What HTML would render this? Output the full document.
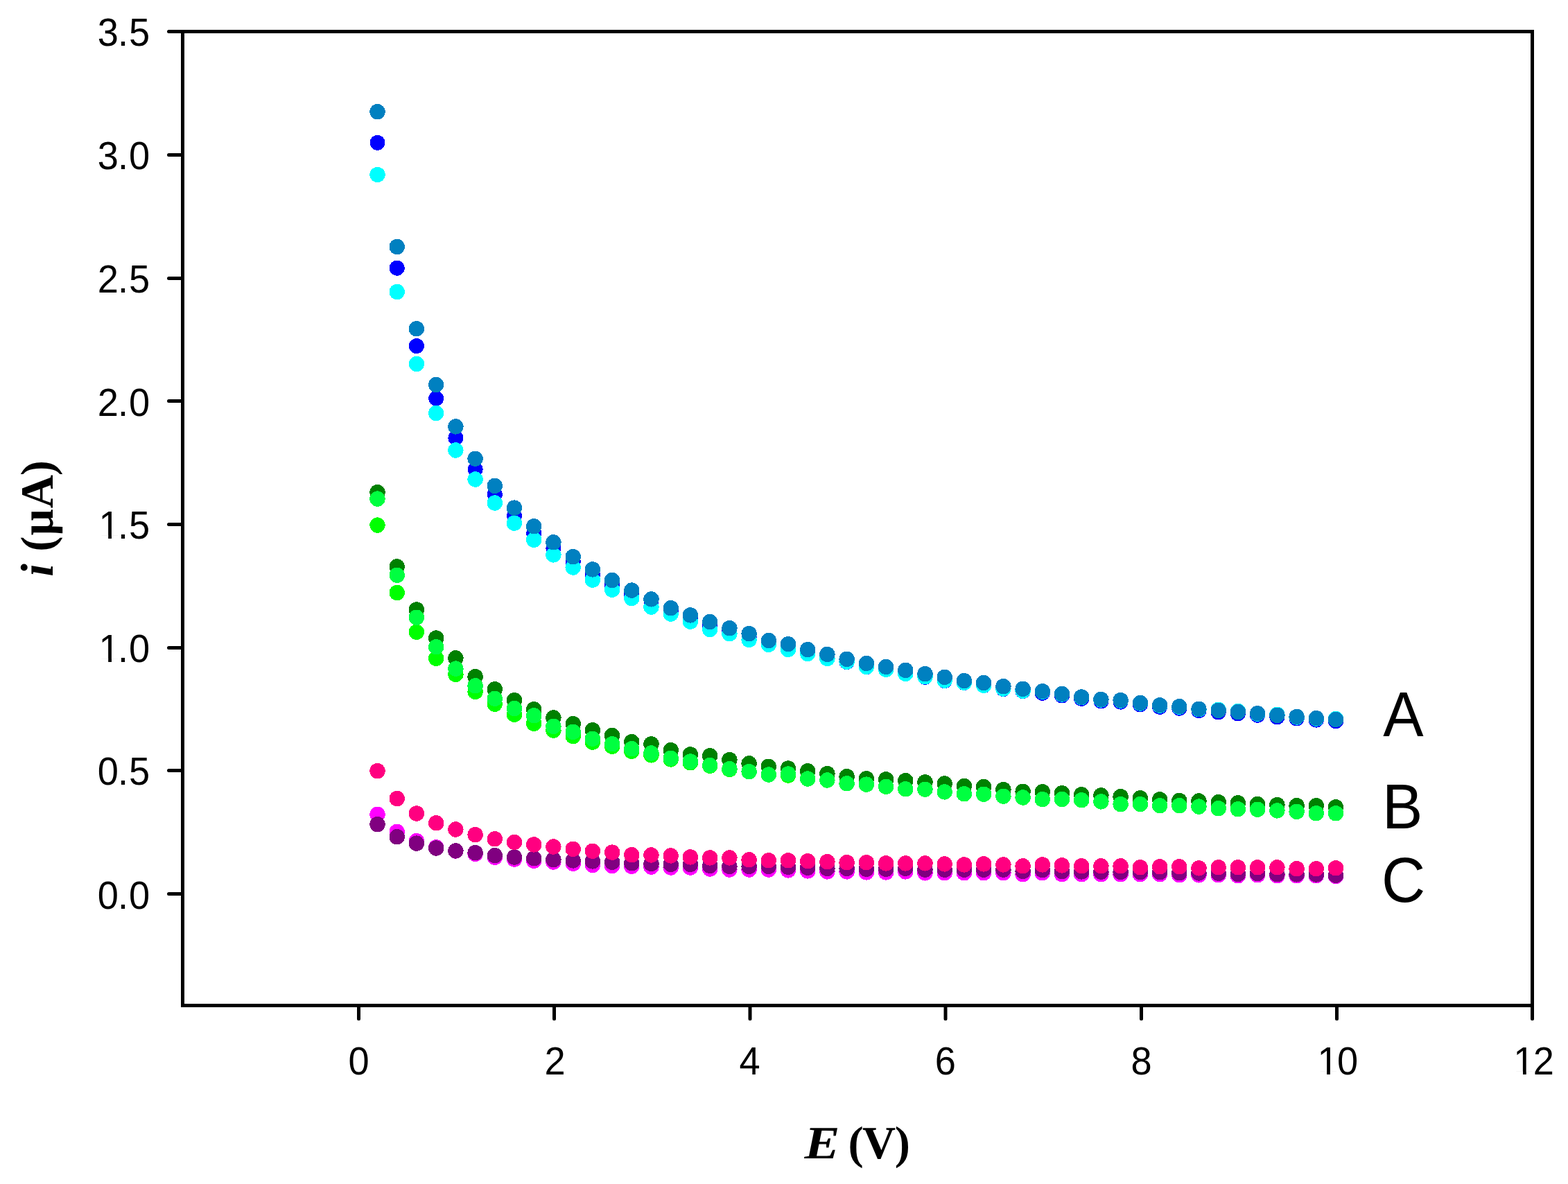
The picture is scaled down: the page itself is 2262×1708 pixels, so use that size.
<!DOCTYPE html>
<html lang="en">
<head>
<meta charset="utf-8">
<title>Current versus potential</title>
<style>
html,body{margin:0;padding:0;background:#fff;}
body{width:2262px;height:1708px;overflow:hidden;}
svg{display:block;text-rendering:geometricPrecision;}
.tk{font-family:"Liberation Sans",Arial,Helvetica,sans-serif;font-size:54.2px;fill:#000;}
.lab{font-family:"Liberation Sans",Arial,Helvetica,sans-serif;font-size:87.5px;fill:#000;}
.ttl{font-family:"Liberation Serif","Times New Roman",Times,serif;font-weight:bold;font-size:66.7px;fill:#000;}
.it{font-style:italic;}
</style>
</head>
<body>
<svg width="2262" height="1708" viewBox="0 0 2262 1708">
<rect x="0" y="0" width="2262" height="1708" fill="#ffffff"/>

<g shape-rendering="crispEdges">
<g fill="#0000ff">
<circle cx="544.5" cy="205.9" r="11.0"/>
<circle cx="572.7" cy="386.7" r="11.0"/>
<circle cx="600.9" cy="499.1" r="11.0"/>
<circle cx="629.2" cy="574.7" r="11.0"/>
<circle cx="657.4" cy="631.8" r="11.0"/>
<circle cx="685.6" cy="677.0" r="11.0"/>
<circle cx="713.8" cy="713.2" r="11.0"/>
<circle cx="742.0" cy="744.0" r="11.0"/>
<circle cx="770.2" cy="769.3" r="11.0"/>
<circle cx="798.4" cy="791.0" r="11.0"/>
<circle cx="826.7" cy="810.0" r="11.0"/>
<circle cx="854.9" cy="829.0" r="11.0"/>
<circle cx="883.1" cy="844.0" r="11.0"/>
<circle cx="911.3" cy="857.5" r="11.0"/>
<circle cx="939.5" cy="870.0" r="11.0"/>
<circle cx="967.7" cy="881.5" r="11.0"/>
<circle cx="995.9" cy="892.0" r="11.0"/>
<circle cx="1024.2" cy="902.5" r="11.0"/>
<circle cx="1052.4" cy="910.5" r="11.0"/>
<circle cx="1080.6" cy="919.0" r="11.0"/>
<circle cx="1108.8" cy="927.0" r="11.0"/>
<circle cx="1137.0" cy="933.5" r="11.0"/>
<circle cx="1165.2" cy="940.5" r="11.0"/>
<circle cx="1193.4" cy="947.5" r="11.0"/>
<circle cx="1221.6" cy="955.1" r="11.0"/>
<circle cx="1249.9" cy="962.4" r="11.0"/>
<circle cx="1278.1" cy="966.0" r="11.0"/>
<circle cx="1306.3" cy="971.5" r="11.0"/>
<circle cx="1334.5" cy="976.8" r="11.0"/>
<circle cx="1362.7" cy="982.2" r="11.0"/>
<circle cx="1390.9" cy="985.0" r="11.0"/>
<circle cx="1419.1" cy="989.0" r="11.0"/>
<circle cx="1447.4" cy="994.0" r="11.0"/>
<circle cx="1475.6" cy="997.1" r="11.0"/>
<circle cx="1503.8" cy="999.8" r="11.0"/>
<circle cx="1532.0" cy="1003.5" r="11.0"/>
<circle cx="1560.2" cy="1008.0" r="11.0"/>
<circle cx="1588.4" cy="1011.5" r="11.0"/>
<circle cx="1616.6" cy="1012.6" r="11.0"/>
<circle cx="1644.9" cy="1016.5" r="11.0"/>
<circle cx="1673.1" cy="1019.8" r="11.0"/>
<circle cx="1701.3" cy="1021.7" r="11.0"/>
<circle cx="1729.5" cy="1025.2" r="11.0"/>
<circle cx="1757.7" cy="1027.4" r="11.0"/>
<circle cx="1785.9" cy="1029.5" r="11.0"/>
<circle cx="1814.1" cy="1031.7" r="11.0"/>
<circle cx="1842.4" cy="1034.3" r="11.0"/>
<circle cx="1870.6" cy="1036.5" r="11.0"/>
<circle cx="1898.8" cy="1038.6" r="11.0"/>
<circle cx="1927.0" cy="1040.4" r="11.0"/>
</g>
<g fill="#00ffff">
<circle cx="544.5" cy="252.0" r="11.2"/>
<circle cx="572.7" cy="421.0" r="11.2"/>
<circle cx="600.9" cy="525.0" r="11.2"/>
<circle cx="629.2" cy="596.0" r="11.2"/>
<circle cx="657.4" cy="649.5" r="11.2"/>
<circle cx="685.6" cy="691.5" r="11.2"/>
<circle cx="713.8" cy="725.5" r="11.2"/>
<circle cx="742.0" cy="754.6" r="11.2"/>
<circle cx="770.2" cy="778.7" r="11.2"/>
<circle cx="798.4" cy="800.4" r="11.2"/>
<circle cx="826.7" cy="818.5" r="11.2"/>
<circle cx="854.9" cy="836.6" r="11.2"/>
<circle cx="883.1" cy="850.7" r="11.2"/>
<circle cx="911.3" cy="863.0" r="11.2"/>
<circle cx="939.5" cy="875.6" r="11.2"/>
<circle cx="967.7" cy="885.6" r="11.2"/>
<circle cx="995.9" cy="896.6" r="11.2"/>
<circle cx="1024.2" cy="908.0" r="11.2"/>
<circle cx="1052.4" cy="914.1" r="11.2"/>
<circle cx="1080.6" cy="923.0" r="11.2"/>
<circle cx="1108.8" cy="929.9" r="11.2"/>
<circle cx="1137.0" cy="936.9" r="11.2"/>
<circle cx="1165.2" cy="943.0" r="11.2"/>
<circle cx="1193.4" cy="950.0" r="11.2"/>
<circle cx="1221.6" cy="954.6" r="11.2"/>
<circle cx="1249.9" cy="961.9" r="11.2"/>
<circle cx="1278.1" cy="965.8" r="11.2"/>
<circle cx="1306.3" cy="971.9" r="11.2"/>
<circle cx="1334.5" cy="976.2" r="11.2"/>
<circle cx="1362.7" cy="981.6" r="11.2"/>
<circle cx="1390.9" cy="984.6" r="11.2"/>
<circle cx="1419.1" cy="988.7" r="11.2"/>
<circle cx="1447.4" cy="993.5" r="11.2"/>
<circle cx="1475.6" cy="996.6" r="11.2"/>
<circle cx="1503.8" cy="997.8" r="11.2"/>
<circle cx="1532.0" cy="1001.5" r="11.2"/>
<circle cx="1560.2" cy="1006.0" r="11.2"/>
<circle cx="1588.4" cy="1009.5" r="11.2"/>
<circle cx="1616.6" cy="1010.6" r="11.2"/>
<circle cx="1644.9" cy="1014.5" r="11.2"/>
<circle cx="1673.1" cy="1017.8" r="11.2"/>
<circle cx="1701.3" cy="1019.7" r="11.2"/>
<circle cx="1729.5" cy="1023.2" r="11.2"/>
<circle cx="1757.7" cy="1023.9" r="11.2"/>
<circle cx="1785.9" cy="1026.0" r="11.2"/>
<circle cx="1814.1" cy="1029.7" r="11.2"/>
<circle cx="1842.4" cy="1030.8" r="11.2"/>
<circle cx="1870.6" cy="1034.5" r="11.2"/>
<circle cx="1898.8" cy="1036.6" r="11.2"/>
<circle cx="1927.0" cy="1036.9" r="11.2"/>
</g>
<g fill="#0080c0">
<circle cx="544.5" cy="161.2" r="11.2"/>
<circle cx="572.7" cy="356.0" r="11.2"/>
<circle cx="600.9" cy="474.3" r="11.2"/>
<circle cx="629.2" cy="555.0" r="11.2"/>
<circle cx="657.4" cy="615.4" r="11.2"/>
<circle cx="685.6" cy="661.7" r="11.2"/>
<circle cx="713.8" cy="700.9" r="11.2"/>
<circle cx="742.0" cy="732.6" r="11.2"/>
<circle cx="770.2" cy="759.3" r="11.2"/>
<circle cx="798.4" cy="782.3" r="11.2"/>
<circle cx="826.7" cy="803.1" r="11.2"/>
<circle cx="854.9" cy="821.4" r="11.2"/>
<circle cx="883.1" cy="837.1" r="11.2"/>
<circle cx="911.3" cy="851.6" r="11.2"/>
<circle cx="939.5" cy="864.4" r="11.2"/>
<circle cx="967.7" cy="877.2" r="11.2"/>
<circle cx="995.9" cy="887.4" r="11.2"/>
<circle cx="1024.2" cy="897.0" r="11.2"/>
<circle cx="1052.4" cy="906.2" r="11.2"/>
<circle cx="1080.6" cy="914.1" r="11.2"/>
<circle cx="1108.8" cy="924.0" r="11.2"/>
<circle cx="1137.0" cy="929.2" r="11.2"/>
<circle cx="1165.2" cy="937.1" r="11.2"/>
<circle cx="1193.4" cy="944.0" r="11.2"/>
<circle cx="1221.6" cy="950.9" r="11.2"/>
<circle cx="1249.9" cy="956.9" r="11.2"/>
<circle cx="1278.1" cy="961.9" r="11.2"/>
<circle cx="1306.3" cy="966.9" r="11.2"/>
<circle cx="1334.5" cy="972.1" r="11.2"/>
<circle cx="1362.7" cy="976.9" r="11.2"/>
<circle cx="1390.9" cy="982.1" r="11.2"/>
<circle cx="1419.1" cy="985.0" r="11.2"/>
<circle cx="1447.4" cy="990.2" r="11.2"/>
<circle cx="1475.6" cy="993.9" r="11.2"/>
<circle cx="1503.8" cy="997.3" r="11.2"/>
<circle cx="1532.0" cy="1001.0" r="11.2"/>
<circle cx="1560.2" cy="1005.5" r="11.2"/>
<circle cx="1588.4" cy="1009.0" r="11.2"/>
<circle cx="1616.6" cy="1010.1" r="11.2"/>
<circle cx="1644.9" cy="1014.0" r="11.2"/>
<circle cx="1673.1" cy="1017.3" r="11.2"/>
<circle cx="1701.3" cy="1019.2" r="11.2"/>
<circle cx="1729.5" cy="1022.7" r="11.2"/>
<circle cx="1757.7" cy="1024.9" r="11.2"/>
<circle cx="1785.9" cy="1027.0" r="11.2"/>
<circle cx="1814.1" cy="1029.2" r="11.2"/>
<circle cx="1842.4" cy="1031.8" r="11.2"/>
<circle cx="1870.6" cy="1034.0" r="11.2"/>
<circle cx="1898.8" cy="1036.1" r="11.2"/>
<circle cx="1927.0" cy="1037.9" r="11.2"/>
</g>
<g fill="#008000">
<circle cx="544.5" cy="710.2" r="11.2"/>
<circle cx="572.7" cy="817.4" r="11.2"/>
<circle cx="600.9" cy="879.5" r="11.2"/>
<circle cx="629.2" cy="920.5" r="11.2"/>
<circle cx="657.4" cy="949.3" r="11.2"/>
<circle cx="685.6" cy="976.2" r="11.2"/>
<circle cx="713.8" cy="994.3" r="11.2"/>
<circle cx="742.0" cy="1010.2" r="11.2"/>
<circle cx="770.2" cy="1023.3" r="11.2"/>
<circle cx="798.4" cy="1035.4" r="11.2"/>
<circle cx="826.7" cy="1044.2" r="11.2"/>
<circle cx="854.9" cy="1053.3" r="11.2"/>
<circle cx="883.1" cy="1061.0" r="11.2"/>
<circle cx="911.3" cy="1070.1" r="11.2"/>
<circle cx="939.5" cy="1073.3" r="11.2"/>
<circle cx="967.7" cy="1082.2" r="11.2"/>
<circle cx="995.9" cy="1088.4" r="11.2"/>
<circle cx="1024.2" cy="1090.2" r="11.2"/>
<circle cx="1052.4" cy="1096.1" r="11.2"/>
<circle cx="1080.6" cy="1101.3" r="11.2"/>
<circle cx="1108.8" cy="1105.7" r="11.2"/>
<circle cx="1137.0" cy="1108.5" r="11.2"/>
<circle cx="1165.2" cy="1112.2" r="11.2"/>
<circle cx="1193.4" cy="1116.1" r="11.2"/>
<circle cx="1221.6" cy="1120.2" r="11.2"/>
<circle cx="1249.9" cy="1123.3" r="11.2"/>
<circle cx="1278.1" cy="1124.4" r="11.2"/>
<circle cx="1306.3" cy="1126.1" r="11.2"/>
<circle cx="1334.5" cy="1128.3" r="11.2"/>
<circle cx="1362.7" cy="1130.4" r="11.2"/>
<circle cx="1390.9" cy="1133.9" r="11.2"/>
<circle cx="1419.1" cy="1135.0" r="11.2"/>
<circle cx="1447.4" cy="1139.1" r="11.2"/>
<circle cx="1475.6" cy="1141.9" r="11.2"/>
<circle cx="1503.8" cy="1142.2" r="11.2"/>
<circle cx="1532.0" cy="1144.2" r="11.2"/>
<circle cx="1560.2" cy="1146.3" r="11.2"/>
<circle cx="1588.4" cy="1147.4" r="11.2"/>
<circle cx="1616.6" cy="1149.2" r="11.2"/>
<circle cx="1644.9" cy="1151.3" r="11.2"/>
<circle cx="1673.1" cy="1153.3" r="11.2"/>
<circle cx="1701.3" cy="1155.0" r="11.2"/>
<circle cx="1729.5" cy="1155.5" r="11.2"/>
<circle cx="1757.7" cy="1157.2" r="11.2"/>
<circle cx="1785.9" cy="1158.3" r="11.2"/>
<circle cx="1814.1" cy="1160.0" r="11.2"/>
<circle cx="1842.4" cy="1161.1" r="11.2"/>
<circle cx="1870.6" cy="1162.2" r="11.2"/>
<circle cx="1898.8" cy="1162.2" r="11.2"/>
<circle cx="1927.0" cy="1164.4" r="11.2"/>
</g>
<g fill="#00ff00">
<circle cx="544.5" cy="757.6" r="11.2"/>
<circle cx="572.7" cy="855.0" r="11.2"/>
<circle cx="600.9" cy="911.8" r="11.2"/>
<circle cx="629.2" cy="949.8" r="11.2"/>
<circle cx="657.4" cy="972.8" r="11.2"/>
<circle cx="685.6" cy="997.8" r="11.2"/>
<circle cx="713.8" cy="1015.7" r="11.2"/>
<circle cx="742.0" cy="1030.7" r="11.2"/>
<circle cx="770.2" cy="1043.7" r="11.2"/>
<circle cx="798.4" cy="1053.6" r="11.2"/>
<circle cx="826.7" cy="1062.0" r="11.2"/>
<circle cx="854.9" cy="1070.6" r="11.2"/>
<circle cx="883.1" cy="1076.8" r="11.2"/>
<circle cx="911.3" cy="1083.7" r="11.2"/>
<circle cx="939.5" cy="1089.4" r="11.2"/>
<circle cx="967.7" cy="1095.4" r="11.2"/>
<circle cx="995.9" cy="1100.3" r="11.2"/>
<circle cx="1024.2" cy="1104.8" r="11.2"/>
<circle cx="1052.4" cy="1110.0" r="11.2"/>
<circle cx="1080.6" cy="1113.1" r="11.2"/>
<circle cx="1108.8" cy="1117.5" r="11.2"/>
<circle cx="1137.0" cy="1118.5" r="11.2"/>
<circle cx="1165.2" cy="1123.5" r="11.2"/>
<circle cx="1193.4" cy="1125.5" r="11.2"/>
<circle cx="1221.6" cy="1130.3" r="11.2"/>
<circle cx="1249.9" cy="1131.6" r="11.2"/>
<circle cx="1278.1" cy="1134.8" r="11.2"/>
<circle cx="1306.3" cy="1138.3" r="11.2"/>
<circle cx="1334.5" cy="1138.7" r="11.2"/>
<circle cx="1362.7" cy="1142.4" r="11.2"/>
<circle cx="1390.9" cy="1145.3" r="11.2"/>
<circle cx="1419.1" cy="1145.7" r="11.2"/>
<circle cx="1447.4" cy="1148.7" r="11.2"/>
<circle cx="1475.6" cy="1150.5" r="11.2"/>
<circle cx="1503.8" cy="1153.1" r="11.2"/>
<circle cx="1532.0" cy="1153.1" r="11.2"/>
<circle cx="1560.2" cy="1154.2" r="11.2"/>
<circle cx="1588.4" cy="1156.4" r="11.2"/>
<circle cx="1616.6" cy="1160.1" r="11.2"/>
<circle cx="1644.9" cy="1160.1" r="11.2"/>
<circle cx="1673.1" cy="1162.2" r="11.2"/>
<circle cx="1701.3" cy="1162.2" r="11.2"/>
<circle cx="1729.5" cy="1163.6" r="11.2"/>
<circle cx="1757.7" cy="1166.2" r="11.2"/>
<circle cx="1785.9" cy="1167.2" r="11.2"/>
<circle cx="1814.1" cy="1167.7" r="11.2"/>
<circle cx="1842.4" cy="1169.4" r="11.2"/>
<circle cx="1870.6" cy="1170.9" r="11.2"/>
<circle cx="1898.8" cy="1173.3" r="11.2"/>
<circle cx="1927.0" cy="1173.3" r="11.2"/>
</g>
<g fill="#00ff40">
<circle cx="544.5" cy="719.6" r="11.2"/>
<circle cx="572.7" cy="829.7" r="11.2"/>
<circle cx="600.9" cy="890.7" r="11.2"/>
<circle cx="629.2" cy="933.2" r="11.2"/>
<circle cx="657.4" cy="964.6" r="11.2"/>
<circle cx="685.6" cy="989.3" r="11.2"/>
<circle cx="713.8" cy="1007.9" r="11.2"/>
<circle cx="742.0" cy="1022.0" r="11.2"/>
<circle cx="770.2" cy="1032.3" r="11.2"/>
<circle cx="798.4" cy="1047.8" r="11.2"/>
<circle cx="826.7" cy="1055.8" r="11.2"/>
<circle cx="854.9" cy="1065.8" r="11.2"/>
<circle cx="883.1" cy="1073.2" r="11.2"/>
<circle cx="911.3" cy="1080.2" r="11.2"/>
<circle cx="939.5" cy="1086.5" r="11.2"/>
<circle cx="967.7" cy="1093.8" r="11.2"/>
<circle cx="995.9" cy="1098.5" r="11.2"/>
<circle cx="1024.2" cy="1104.0" r="11.2"/>
<circle cx="1052.4" cy="1109.2" r="11.2"/>
<circle cx="1080.6" cy="1113.1" r="11.2"/>
<circle cx="1108.8" cy="1117.5" r="11.2"/>
<circle cx="1137.0" cy="1116.5" r="11.2"/>
<circle cx="1165.2" cy="1123.5" r="11.2"/>
<circle cx="1193.4" cy="1125.5" r="11.2"/>
<circle cx="1221.6" cy="1130.3" r="11.2"/>
<circle cx="1249.9" cy="1131.6" r="11.2"/>
<circle cx="1278.1" cy="1134.8" r="11.2"/>
<circle cx="1306.3" cy="1138.3" r="11.2"/>
<circle cx="1334.5" cy="1138.7" r="11.2"/>
<circle cx="1362.7" cy="1142.4" r="11.2"/>
<circle cx="1390.9" cy="1145.3" r="11.2"/>
<circle cx="1419.1" cy="1145.7" r="11.2"/>
<circle cx="1447.4" cy="1148.7" r="11.2"/>
<circle cx="1475.6" cy="1150.5" r="11.2"/>
<circle cx="1503.8" cy="1153.1" r="11.2"/>
<circle cx="1532.0" cy="1153.1" r="11.2"/>
<circle cx="1560.2" cy="1154.2" r="11.2"/>
<circle cx="1588.4" cy="1156.4" r="11.2"/>
<circle cx="1616.6" cy="1160.1" r="11.2"/>
<circle cx="1644.9" cy="1160.1" r="11.2"/>
<circle cx="1673.1" cy="1162.2" r="11.2"/>
<circle cx="1701.3" cy="1162.2" r="11.2"/>
<circle cx="1729.5" cy="1163.6" r="11.2"/>
<circle cx="1757.7" cy="1166.2" r="11.2"/>
<circle cx="1785.9" cy="1167.2" r="11.2"/>
<circle cx="1814.1" cy="1167.7" r="11.2"/>
<circle cx="1842.4" cy="1169.4" r="11.2"/>
<circle cx="1870.6" cy="1170.9" r="11.2"/>
<circle cx="1898.8" cy="1173.3" r="11.2"/>
<circle cx="1927.0" cy="1173.3" r="11.2"/>
</g>
<g fill="#ff00ff">
<circle cx="544.5" cy="1174.8" r="11.2"/>
<circle cx="572.7" cy="1199.9" r="11.2"/>
<circle cx="600.9" cy="1213.1" r="11.2"/>
<circle cx="629.2" cy="1222.2" r="11.2"/>
<circle cx="657.4" cy="1227.5" r="11.2"/>
<circle cx="685.6" cy="1231.8" r="11.2"/>
<circle cx="713.8" cy="1236.7" r="11.2"/>
<circle cx="742.0" cy="1239.5" r="11.2"/>
<circle cx="770.2" cy="1241.7" r="11.2"/>
<circle cx="798.4" cy="1243.5" r="11.2"/>
<circle cx="826.7" cy="1245.7" r="11.2"/>
<circle cx="854.9" cy="1248.0" r="11.2"/>
<circle cx="883.1" cy="1249.0" r="11.2"/>
<circle cx="911.3" cy="1249.8" r="11.2"/>
<circle cx="939.5" cy="1250.6" r="11.2"/>
<circle cx="967.7" cy="1251.5" r="11.2"/>
<circle cx="995.9" cy="1251.5" r="11.2"/>
<circle cx="1024.2" cy="1253.5" r="11.2"/>
<circle cx="1052.4" cy="1254.5" r="11.2"/>
<circle cx="1080.6" cy="1254.5" r="11.2"/>
<circle cx="1108.8" cy="1254.5" r="11.2"/>
<circle cx="1137.0" cy="1255.4" r="11.2"/>
<circle cx="1165.2" cy="1256.4" r="11.2"/>
<circle cx="1193.4" cy="1257.4" r="11.2"/>
<circle cx="1221.6" cy="1257.4" r="11.2"/>
<circle cx="1249.9" cy="1258.4" r="11.2"/>
<circle cx="1278.1" cy="1258.4" r="11.2"/>
<circle cx="1306.3" cy="1257.4" r="11.2"/>
<circle cx="1334.5" cy="1259.3" r="11.2"/>
<circle cx="1362.7" cy="1259.3" r="11.2"/>
<circle cx="1390.9" cy="1259.3" r="11.2"/>
<circle cx="1419.1" cy="1259.3" r="11.2"/>
<circle cx="1447.4" cy="1259.3" r="11.2"/>
<circle cx="1475.6" cy="1261.3" r="11.2"/>
<circle cx="1503.8" cy="1259.3" r="11.2"/>
<circle cx="1532.0" cy="1261.3" r="11.2"/>
<circle cx="1560.2" cy="1261.3" r="11.2"/>
<circle cx="1588.4" cy="1261.3" r="11.2"/>
<circle cx="1616.6" cy="1261.3" r="11.2"/>
<circle cx="1644.9" cy="1261.3" r="11.2"/>
<circle cx="1673.1" cy="1261.3" r="11.2"/>
<circle cx="1701.3" cy="1262.3" r="11.2"/>
<circle cx="1729.5" cy="1262.3" r="11.2"/>
<circle cx="1757.7" cy="1262.3" r="11.2"/>
<circle cx="1785.9" cy="1263.3" r="11.2"/>
<circle cx="1814.1" cy="1262.3" r="11.2"/>
<circle cx="1842.4" cy="1263.3" r="11.2"/>
<circle cx="1870.6" cy="1263.3" r="11.2"/>
<circle cx="1898.8" cy="1263.3" r="11.2"/>
<circle cx="1927.0" cy="1264.2" r="11.2"/>
</g>
<g fill="#800080">
<circle cx="544.5" cy="1189.1" r="11.2"/>
<circle cx="572.7" cy="1207.2" r="11.2"/>
<circle cx="600.9" cy="1216.6" r="11.2"/>
<circle cx="629.2" cy="1223.5" r="11.2"/>
<circle cx="657.4" cy="1227.4" r="11.2"/>
<circle cx="685.6" cy="1230.1" r="11.2"/>
<circle cx="713.8" cy="1234.1" r="11.2"/>
<circle cx="742.0" cy="1236.5" r="11.2"/>
<circle cx="770.2" cy="1238.3" r="11.2"/>
<circle cx="798.4" cy="1240.1" r="11.2"/>
<circle cx="826.7" cy="1241.4" r="11.2"/>
<circle cx="854.9" cy="1242.4" r="11.2"/>
<circle cx="883.1" cy="1243.7" r="11.2"/>
<circle cx="911.3" cy="1245.2" r="11.2"/>
<circle cx="939.5" cy="1246.0" r="11.2"/>
<circle cx="967.7" cy="1246.9" r="11.2"/>
<circle cx="995.9" cy="1246.9" r="11.2"/>
<circle cx="1024.2" cy="1248.9" r="11.2"/>
<circle cx="1052.4" cy="1249.9" r="11.2"/>
<circle cx="1080.6" cy="1249.9" r="11.2"/>
<circle cx="1108.8" cy="1249.9" r="11.2"/>
<circle cx="1137.0" cy="1250.8" r="11.2"/>
<circle cx="1165.2" cy="1251.8" r="11.2"/>
<circle cx="1193.4" cy="1252.8" r="11.2"/>
<circle cx="1221.6" cy="1252.8" r="11.2"/>
<circle cx="1249.9" cy="1253.8" r="11.2"/>
<circle cx="1278.1" cy="1253.8" r="11.2"/>
<circle cx="1306.3" cy="1252.8" r="11.2"/>
<circle cx="1334.5" cy="1254.7" r="11.2"/>
<circle cx="1362.7" cy="1254.7" r="11.2"/>
<circle cx="1390.9" cy="1254.7" r="11.2"/>
<circle cx="1419.1" cy="1254.7" r="11.2"/>
<circle cx="1447.4" cy="1254.7" r="11.2"/>
<circle cx="1475.6" cy="1256.9" r="11.2"/>
<circle cx="1503.8" cy="1255.1" r="11.2"/>
<circle cx="1532.0" cy="1257.2" r="11.2"/>
<circle cx="1560.2" cy="1257.4" r="11.2"/>
<circle cx="1588.4" cy="1257.6" r="11.2"/>
<circle cx="1616.6" cy="1257.8" r="11.2"/>
<circle cx="1644.9" cy="1258.0" r="11.2"/>
<circle cx="1673.1" cy="1258.2" r="11.2"/>
<circle cx="1701.3" cy="1259.3" r="11.2"/>
<circle cx="1729.5" cy="1259.5" r="11.2"/>
<circle cx="1757.7" cy="1259.7" r="11.2"/>
<circle cx="1785.9" cy="1260.9" r="11.2"/>
<circle cx="1814.1" cy="1260.1" r="11.2"/>
<circle cx="1842.4" cy="1261.3" r="11.2"/>
<circle cx="1870.6" cy="1261.4" r="11.2"/>
<circle cx="1898.8" cy="1261.6" r="11.2"/>
<circle cx="1927.0" cy="1262.7" r="11.2"/>
</g>
<g fill="#ff0080">
<circle cx="544.5" cy="1112.1" r="11.2"/>
<circle cx="572.7" cy="1152.0" r="11.2"/>
<circle cx="600.9" cy="1173.5" r="11.2"/>
<circle cx="629.2" cy="1187.3" r="11.2"/>
<circle cx="657.4" cy="1196.5" r="11.2"/>
<circle cx="685.6" cy="1204.1" r="11.2"/>
<circle cx="713.8" cy="1210.3" r="11.2"/>
<circle cx="742.0" cy="1214.8" r="11.2"/>
<circle cx="770.2" cy="1218.4" r="11.2"/>
<circle cx="798.4" cy="1221.5" r="11.2"/>
<circle cx="826.7" cy="1224.9" r="11.2"/>
<circle cx="854.9" cy="1227.8" r="11.2"/>
<circle cx="883.1" cy="1229.6" r="11.2"/>
<circle cx="911.3" cy="1233.2" r="11.2"/>
<circle cx="939.5" cy="1233.5" r="11.2"/>
<circle cx="967.7" cy="1234.4" r="11.2"/>
<circle cx="995.9" cy="1236.4" r="11.2"/>
<circle cx="1024.2" cy="1237.4" r="11.2"/>
<circle cx="1052.4" cy="1237.4" r="11.2"/>
<circle cx="1080.6" cy="1240.3" r="11.2"/>
<circle cx="1108.8" cy="1241.3" r="11.2"/>
<circle cx="1137.0" cy="1241.3" r="11.2"/>
<circle cx="1165.2" cy="1242.3" r="11.2"/>
<circle cx="1193.4" cy="1243.2" r="11.2"/>
<circle cx="1221.6" cy="1244.2" r="11.2"/>
<circle cx="1249.9" cy="1244.2" r="11.2"/>
<circle cx="1278.1" cy="1245.4" r="11.2"/>
<circle cx="1306.3" cy="1245.4" r="11.2"/>
<circle cx="1334.5" cy="1245.4" r="11.2"/>
<circle cx="1362.7" cy="1246.4" r="11.2"/>
<circle cx="1390.9" cy="1247.4" r="11.2"/>
<circle cx="1419.1" cy="1246.4" r="11.2"/>
<circle cx="1447.4" cy="1247.4" r="11.2"/>
<circle cx="1475.6" cy="1249.3" r="11.2"/>
<circle cx="1503.8" cy="1247.4" r="11.2"/>
<circle cx="1532.0" cy="1248.4" r="11.2"/>
<circle cx="1560.2" cy="1249.3" r="11.2"/>
<circle cx="1588.4" cy="1249.3" r="11.2"/>
<circle cx="1616.6" cy="1249.3" r="11.2"/>
<circle cx="1644.9" cy="1251.3" r="11.2"/>
<circle cx="1673.1" cy="1250.3" r="11.2"/>
<circle cx="1701.3" cy="1250.3" r="11.2"/>
<circle cx="1729.5" cy="1252.3" r="11.2"/>
<circle cx="1757.7" cy="1251.3" r="11.2"/>
<circle cx="1785.9" cy="1251.3" r="11.2"/>
<circle cx="1814.1" cy="1251.3" r="11.2"/>
<circle cx="1842.4" cy="1251.3" r="11.2"/>
<circle cx="1870.6" cy="1253.2" r="11.2"/>
<circle cx="1898.8" cy="1253.2" r="11.2"/>
<circle cx="1927.0" cy="1252.3" r="11.2"/>
</g>
</g>
<g stroke="#000" stroke-width="5" fill="none" shape-rendering="crispEdges">
<rect x="263.5" y="45.5" width="1947.0" height="1405.0"/>
</g>
<g stroke="#000" stroke-width="5" stroke-linecap="round" fill="none">
<line x1="243.5" y1="1289.5" x2="263.5" y2="1289.5"/>
<line x1="243.5" y1="1111.5" x2="263.5" y2="1111.5"/>
<line x1="243.5" y1="934.5" x2="263.5" y2="934.5"/>
<line x1="243.5" y1="756.5" x2="263.5" y2="756.5"/>
<line x1="243.5" y1="578.5" x2="263.5" y2="578.5"/>
<line x1="243.5" y1="401.5" x2="263.5" y2="401.5"/>
<line x1="243.5" y1="223.5" x2="263.5" y2="223.5"/>
<line x1="243.5" y1="45.5" x2="263.5" y2="45.5"/>
<line x1="517.5" y1="1450.5" x2="517.5" y2="1469.7"/>
<line x1="799.5" y1="1450.5" x2="799.5" y2="1469.7"/>
<line x1="1082.0" y1="1450.5" x2="1082.0" y2="1469.7"/>
<line x1="1364.0" y1="1450.5" x2="1364.0" y2="1469.7"/>
<line x1="1646.5" y1="1450.5" x2="1646.5" y2="1469.7"/>
<line x1="1928.5" y1="1450.5" x2="1928.5" y2="1469.7"/>
<line x1="2210.5" y1="1450.5" x2="2210.5" y2="1469.7"/>
</g>
<g class="tk">
<text x="140.85 170.00 186.06" y="0" transform="translate(0 1311.00) scale(1 1.046)">0.0</text>
<text x="140.85 170.00 186.06" y="0" transform="translate(0 1132.00) scale(1 1.046)">0.5</text>
<text x="142.55 170.00 186.06" y="0" transform="translate(0 955.00) scale(1 1.046)">1.0</text>
<text x="142.55 170.00 186.06" y="0" transform="translate(0 777.00) scale(1 1.046)">1.5</text>
<text x="140.85 170.00 186.06" y="0" transform="translate(0 600.00) scale(1 1.046)">2.0</text>
<text x="140.85 170.00 186.06" y="0" transform="translate(0 422.00) scale(1 1.046)">2.5</text>
<text x="140.85 170.00 186.06" y="0" transform="translate(0 244.00) scale(1 1.046)">3.0</text>
<text x="140.85 170.00 186.06" y="0" transform="translate(0 66.00) scale(1 1.046)">3.5</text>
<text x="502.53" y="0" transform="translate(0 1550.00) scale(1 1.046)">0</text>
<text x="785.43" y="0" transform="translate(0 1550.00) scale(1 1.046)">2</text>
<text x="1066.53" y="0" transform="translate(0 1550.00) scale(1 1.046)">4</text>
<text x="1348.73" y="0" transform="translate(0 1550.00) scale(1 1.046)">6</text>
<text x="1631.43" y="0" transform="translate(0 1550.00) scale(1 1.046)">8</text>
<text x="1900.46 1928.90" y="0" transform="translate(0 1550.00) scale(1 1.046)">10</text>
<text x="2183.36 2211.80" y="0" transform="translate(0 1550.00) scale(1 1.046)">12</text>
</g>
<g fill="#fff"><rect x="145.05" y="950.16" width="11.13" height="6"/><rect x="160.97" y="950.16" width="10.08" height="6"/><rect x="145.05" y="772.16" width="11.13" height="6"/><rect x="160.97" y="772.16" width="10.08" height="6"/><rect x="1902.96" y="1545.16" width="11.13" height="6"/><rect x="1918.88" y="1545.16" width="10.08" height="6"/><rect x="2185.86" y="1545.16" width="11.13" height="6"/><rect x="2201.78" y="1545.16" width="10.08" height="6"/></g>
<g class="lab" text-anchor="middle">
<text transform="translate(2024.5 1062) scale(1 1.046)">A</text>
<text transform="translate(2023.3 1195) scale(1 1.046)">B</text>
<text transform="translate(2024.7 1301.3) scale(1 1.046)">C</text>
</g>
<text class="ttl" y="1671"><tspan class="it" x="1160.5" textLength="50.95" lengthAdjust="spacingAndGlyphs">E</tspan><tspan x="1211 1223.6 1243.9 1290.7"> (V)</tspan></text>
<text class="ttl" transform="translate(75.8 831.8) rotate(-90)" y="0"><tspan class="it" x="0">i</tspan><tspan x="19 36.1 59.6 98.6 145.6"> (μA)</tspan></text>
</svg>
</body>
</html>
